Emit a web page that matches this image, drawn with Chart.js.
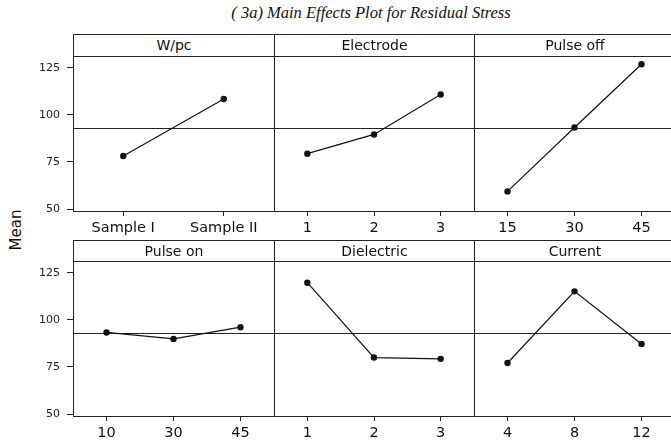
<!DOCTYPE html>
<html>
<head>
<meta charset="utf-8">
<script src="https://cdn.jsdelivr.net/npm/chart.js@4.4.1/dist/chart.umd.min.js"></script>
<style>
  body { margin: 0; background: #fff; width: 671px; height: 445px; overflow: hidden; position: relative; font-family: "DejaVu Sans", sans-serif; }
  .abs { position: absolute; }
  .title { left: 0; width: 742px; top: 3px; text-align: center; font: italic 16.5px "Liberation Serif", serif; color: #111; }
  .head { box-sizing: border-box; border: 1px solid #222; text-align: center; font-size: 14px; color: #111; white-space: nowrap; }
  .frame { box-sizing: border-box; border: 1px solid #222; pointer-events: none; }
  #ylab { left: 16px; top: 230px; font-size: 15px; color: #111; transform: translate(-50%, -50%) rotate(-90deg); white-space: nowrap; }
  canvas { position: absolute; }
</style>
</head>
<body>
<div class="abs title">( 3a) Main Effects Plot for Residual Stress</div>
<div class="abs" id="ylab">Mean</div>
<script>
// factor levels and mean residual stress at each level
const wpcLevels = ['Sample I', 'Sample II'];
const wpcMeans = [78.2, 108.4];
const electrodeLevels = ['1', '2', '3'];
const electrodeMeans = [79.4, 89.6, 110.8];
const pulseOffLevels = ['15', '30', '45'];
const pulseOffMeans = [59.4, 93.3, 126.8];
const pulseOnLevels = ['10', '30', '45'];
const pulseOnMeans = [93.3, 89.9, 96.1];
const dielectricLevels = ['1', '2', '3'];
const dielectricMeans = [119.7, 80.0, 79.3];
const currentLevels = ['4', '8', '12'];
const currentMeans = [77.1, 115.1, 87.2];
const yTicks = [50, 75, 100, 125];
const grandMean = 93.0;

const panels = [
  { name: 'W/pc', levels: wpcLevels, means: wpcMeans },
  { name: 'Electrode', levels: electrodeLevels, means: electrodeMeans },
  { name: 'Pulse off', levels: pulseOffLevels, means: pulseOffMeans },
  { name: 'Pulse on', levels: pulseOnLevels, means: pulseOnMeans },
  { name: 'Dielectric', levels: dielectricLevels, means: dielectricMeans },
  { name: 'Current', levels: currentLevels, means: currentMeans }
];

const colX = [73, 274, 474];
const colW = [201, 200, 201];
const headTop = [34, 240];
const plotTop = [56, 261];
const plotH = 155;
const axisH = 29;

// horizontal reference line at the overall mean
const meanLine = {
  id: 'meanLine',
  beforeDatasetsDraw(chart) {
    const { ctx, chartArea: a, scales: { y } } = chart;
    const py = Math.round(y.getPixelForValue(grandMean)) + 0.5;
    ctx.save();
    ctx.strokeStyle = '#222';
    ctx.lineWidth = 1;
    ctx.beginPath();
    ctx.moveTo(a.left, py);
    ctx.lineTo(a.right, py);
    ctx.stroke();
    ctx.restore();
  }
};

panels.forEach((p, i) => {
  const r = Math.floor(i / 3), c = i % 3;
  const x = colX[c], w = colW[c];

  const head = document.createElement('div');
  head.className = 'abs head';
  head.textContent = p.name;
  const hh = plotTop[r] - headTop[r] + 1;
  Object.assign(head.style, { left: x + 'px', top: headTop[r] + 'px', width: (w + 1) + 'px', height: hh + 'px', lineHeight: (hh - 2) + 'px' });
  document.body.appendChild(head);

  const cv = document.createElement('canvas');
  const cLeft = c === 0 ? 0 : x;
  const cW = c === 0 ? x + w : w;
  cv.width = cW;
  cv.height = plotH + axisH;
  Object.assign(cv.style, { left: cLeft + 'px', top: plotTop[r] + 'px', width: cW + 'px', height: (plotH + axisH) + 'px' });
  document.body.appendChild(cv);

  const frame = document.createElement('div');
  frame.className = 'abs frame';
  Object.assign(frame.style, { left: x + 'px', top: plotTop[r] + 'px', width: (w + 1) + 'px', height: (plotH + 1) + 'px' });
  document.body.appendChild(frame);

  new Chart(cv, {
    type: 'line',
    data: {
      labels: p.levels,
      datasets: [{
        data: p.means,
        borderColor: '#111',
        borderWidth: 1.2,
        pointRadius: 3.2,
        pointBorderWidth: 0,
        pointBackgroundColor: '#111',
        tension: 0
      }]
    },
    options: {
      responsive: false,
      animation: false,
      devicePixelRatio: 1,
      layout: { padding: 0, autoPadding: false },
      plugins: { legend: { display: false }, tooltip: { enabled: false } },
      scales: {
        x: {
          type: 'category',
          offset: true,
          afterFit: s => { s.height = axisH; s.paddingLeft = 0; s.paddingRight = 0; },
          border: { display: false },
          grid: { drawOnChartArea: false, tickLength: 5, color: '#222', offset: false },
          ticks: { padding: 4, color: '#111', maxRotation: 0, autoSkip: false, font: { family: 'DejaVu Sans', size: 14.5 } }
        },
        y: {
          display: c === 0,
          min: 49,
          max: 131.2,
          afterBuildTicks: s => { s.ticks = yTicks.map(v => ({ value: v })); },
          afterFit: s => { s.width = c === 0 ? x : 0; s.paddingTop = 0; s.paddingBottom = 0; },
          border: { display: false },
          grid: { drawOnChartArea: false, tickLength: 6, color: '#222' },
          ticks: { padding: 7, color: '#222', font: { family: 'DejaVu Sans', size: 11 } }
        }
      }
    },
    plugins: [meanLine]
  });
});
</script>
</body>
</html>
